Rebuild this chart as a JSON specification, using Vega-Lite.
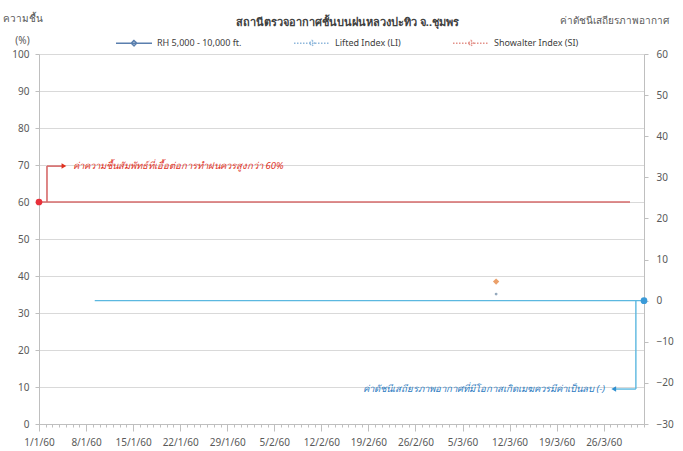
{
  "$schema": "https://vega.github.io/schema/vega-lite/v6.json",
  "width": 605,
  "height": 370,
  "autosize": {"type": "none"},
  "padding": {"left": 39, "top": 54, "right": 39, "bottom": 27},
  "background": "white",
  "config": {
    "view": {"stroke": null},
    "font": "Noto Sans",
    "axis": {"labelFont": "Noto Sans", "titleFont": "Noto Sans", "labelFontSize": 10, "labelColor": "#595959", "domainColor": "#bfbfbf", "tickColor": "#bfbfbf", "titleFontWeight": "normal", "titleFontSize": 10, "titleColor": "#595959"}
  },
  "title": {"text": "สถานีตรวจอากาศชั้นบนฝนหลวงปะทิว  จ..ชุมพร", "frame": "group", "anchor": "middle", "fontSize": 11, "fontWeight": "bold", "color": "#404040", "offset": 20, "dy": 35, "dx": 6},
  "datasets": {
    "left": [
      {"kind": "seg", "x": "2017-01-01T00:00", "x2": "2017-03-29T22:00", "y": 60, "y2": 60},
      {"kind": "seg", "x": "2017-01-02T04:30", "x2": "2017-01-02T04:30", "y": 60, "y2": 69.7},
      {"kind": "seg", "x": "2017-01-02T04:30", "x2": "2017-01-04T12:00", "y": 69.7, "y2": 69.7},
      {"kind": "head", "x": "2017-01-04T17:00", "y": 69.7},
      {"kind": "dot", "x": "2017-01-01T00:00", "y": 60},
      {"kind": "text", "x": "2017-01-06T01:30", "y": 69.7, "label": "ค่าความชื้นสัมพัทธ์ที่เอื้อต่อการทำฝนควรสูงกว่า 60%"},
      {"kind": "data", "x": "2017-03-10T00:00", "y": 38.5, "series": "RH 5,000 - 10,000 ft."}
    ],
    "right": [
      {"kind": "seg", "x": "2017-01-09T07:00", "x2": "2017-04-01T00:00", "y": 0, "y2": 0},
      {"kind": "seg", "x": "2017-03-30T19:00", "x2": "2017-03-30T19:00", "y": 0, "y2": -21.5},
      {"kind": "seg", "x": "2017-03-30T19:00", "x2": "2017-03-27T18:00", "y": -21.5, "y2": -21.5},
      {"kind": "head", "x": "2017-03-27T12:00", "y": -21.5},
      {"kind": "dot", "x": "2017-04-01T00:00", "y": 0},
      {"kind": "text", "x": "2017-03-26T05:00", "y": -21.5, "label": "ค่าดัชนีเสถียรภาพอากาศที่มีโอกาสเกิดเมฆควรมีค่าเป็นลบ (-)"},
      {"kind": "data", "x": "2017-03-10T00:00", "y": 1.6, "series": "Lifted Index (LI)"}
    ]
  },
  "layer": [
    {
      "data": {"name": "left"},
      "encoding": {
        "x": {"field": "x", "type": "temporal", "title": null,
          "scale": {"domain": [{"year": 2017, "month": 1, "date": 1}, {"year": 2017, "month": 4, "date": 1}]},
          "axis": {"orient": "bottom", "grid": false, "tickSize": 7, "labelPadding": 6, "labelFontSize": 10,
            "values": [{"year": 2017, "month": 1, "date": 1}, {"year": 2017, "month": 1, "date": 8}, {"year": 2017, "month": 1, "date": 15}, {"year": 2017, "month": 1, "date": 22}, {"year": 2017, "month": 1, "date": 29}, {"year": 2017, "month": 2, "date": 5}, {"year": 2017, "month": 2, "date": 12}, {"year": 2017, "month": 2, "date": 19}, {"year": 2017, "month": 2, "date": 26}, {"year": 2017, "month": 3, "date": 5}, {"year": 2017, "month": 3, "date": 12}, {"year": 2017, "month": 3, "date": 19}, {"year": 2017, "month": 3, "date": 26}],
            "labelExpr": "date(datum.value) + '/' + (month(datum.value) + 1) + '/60'", "labelAlign": "center"}},
        "y": {"field": "y", "type": "quantitative",
          "scale": {"domain": [0, 100], "nice": false, "zero": false},
          "axis": {"orient": "left", "values": [0, 10, 20, 30, 40, 50, 60, 70, 80, 90, 100], "grid": true, "gridColor": "#d9d9d9", "tickSize": 4, "labelPadding": 6,
            "title": ["ความชื้น", "(%)"], "titleAngle": 0, "titleAlign": "center", "titleBaseline": "top", "titleLineHeight": 22, "titleX": -17, "titleY": -41}}
      },
      "layer": [
        {"transform": [{"filter": "datum.kind === 'seg'"}], "mark": {"type": "rule", "color": "#d66a6a", "strokeWidth": 1.6}, "encoding": {"x2": {"field": "x2"}, "y2": {"field": "y2"}}},
        {"transform": [{"filter": "datum.kind === 'head'"}], "mark": {"type": "point", "shape": "triangle-right", "filled": true, "color": "#e0301e", "size": 30, "opacity": 1}},
        {"transform": [{"filter": "datum.kind === 'dot'"}], "mark": {"type": "point", "shape": "circle", "filled": true, "color": "#e8303a", "size": 45, "opacity": 1}},
        {"transform": [{"filter": "datum.kind === 'text'"}], "mark": {"type": "text", "align": "left", "baseline": "middle", "fontStyle": "italic", "fontSize": 9.5, "color": "#e0301e"}, "encoding": {"text": {"field": "label"}}},
        {"transform": [{"filter": "datum.kind === 'data'"}], "mark": {"type": "line", "strokeWidth": 2},
          "encoding": {
            "color": {"field": "series", "type": "nominal",
              "scale": {"domain": ["RH 5,000 - 10,000 ft.", "Lifted Index (LI)", "Showalter Index (SI)"], "range": ["#5a7fae", "#8fb8dc", "#e3928a"]},
              "legend": {"orient": "none", "legendX": 76, "legendY": -30, "direction": "horizontal", "title": null, "symbolSize": 1296, "labelFontSize": 9, "labelColor": "#404040", "labelOffset": 4, "columnPadding": 49, "labelFont": "Noto Sans",
                "symbolType": "M-1,0L1,0M0,-0.15L0.15,0L0,0.15L-0.15,0Z", "symbolStrokeWidth": 1.5}},
            "strokeDash": {"field": "series", "type": "nominal",
              "scale": {"domain": ["RH 5,000 - 10,000 ft.", "Lifted Index (LI)", "Showalter Index (SI)"], "range": [[1, 0], [1.5, 1.5], [1.5, 1.5]]}}}},
        {"transform": [{"filter": "datum.kind === 'data'"}], "mark": {"type": "point", "shape": "diamond", "filled": true, "size": 40, "opacity": 1, "color": "#eba06a"}}
      ]
    },
    {
      "data": {"name": "right"},
      "encoding": {
        "x": {"field": "x", "type": "temporal", "title": null,
          "axis": {"orient": "bottom", "grid": false, "labels": false, "domain": false, "tickSize": 3, "tickCount": {"interval": "day", "step": 1}}},
        "y": {"field": "y", "type": "quantitative",
          "scale": {"domain": [-30, 60], "nice": false, "zero": false},
          "axis": {"orient": "right", "values": [-30, -20, -10, 0, 10, 20, 30, 40, 50, 60], "grid": false, "tickSize": 4, "labelPadding": 8,
            "title": "ค่าดัชนีเสถียรภาพอากาศ", "titleAngle": 0, "titleAlign": "right", "titleBaseline": "middle", "titleX": 24, "titleY": -34}}
      },
      "layer": [
        {"transform": [{"filter": "datum.kind === 'seg'"}], "mark": {"type": "rule", "color": "#5bb8e0", "strokeWidth": 1.4}, "encoding": {"x2": {"field": "x2"}, "y2": {"field": "y2"}}},
        {"transform": [{"filter": "datum.kind === 'head'"}], "mark": {"type": "point", "shape": "triangle-left", "filled": true, "color": "#2e8fd0", "size": 30, "opacity": 1}},
        {"transform": [{"filter": "datum.kind === 'dot'"}], "mark": {"type": "point", "shape": "circle", "filled": true, "color": "#3a9ad8", "size": 45, "opacity": 1}},
        {"transform": [{"filter": "datum.kind === 'text'"}], "mark": {"type": "text", "align": "right", "baseline": "middle", "fontStyle": "italic", "fontSize": 9.5, "color": "#2b7bbf"}, "encoding": {"text": {"field": "label"}}},
        {"transform": [{"filter": "datum.kind === 'data'"}], "mark": {"type": "point", "shape": "circle", "filled": true, "size": 8, "opacity": 1, "color": "#95a9bd"}}
      ]
    }
  ],
  "resolve": {"scale": {"y": "independent"}, "axis": {"x": "independent"}}
}
